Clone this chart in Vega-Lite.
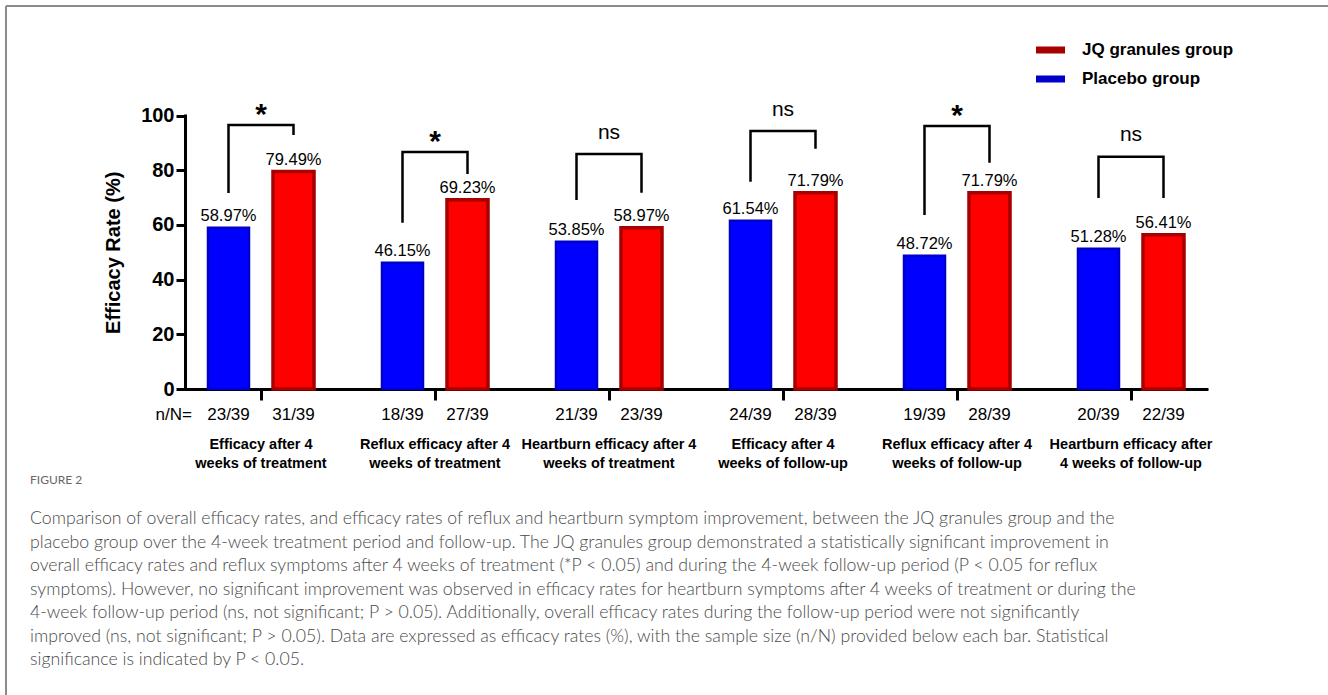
{
  "$schema": "https://vega.github.io/schema/vega-lite/v6.json",
  "width": 1322,
  "height": 689,
  "autosize": "none",
  "padding": {"left": 6, "top": 6, "right": 0, "bottom": 0},
  "background": "white",
  "config": {
    "view": {"stroke": "#8c8c8c", "strokeWidth": 2, "strokeDash": [1322, 2011, 689, 0]},
    "font": "Liberation Sans"
  },
  "datasets": {
    "rates": [
      {"group": "Efficacy after 4 weeks of treatment", "arm": "Placebo group", "rate": 58.97, "n": "23/39"},
      {"group": "Efficacy after 4 weeks of treatment", "arm": "JQ granules group", "rate": 79.49, "n": "31/39"},
      {"group": "Reflux efficacy after 4 weeks of treatment", "arm": "Placebo group", "rate": 46.15, "n": "18/39"},
      {"group": "Reflux efficacy after 4 weeks of treatment", "arm": "JQ granules group", "rate": 69.23, "n": "27/39"},
      {"group": "Heartburn efficacy after 4 weeks of treatment", "arm": "Placebo group", "rate": 53.85, "n": "21/39"},
      {"group": "Heartburn efficacy after 4 weeks of treatment", "arm": "JQ granules group", "rate": 58.97, "n": "23/39"},
      {"group": "Efficacy after 4 weeks of follow-up", "arm": "Placebo group", "rate": 61.54, "n": "24/39"},
      {"group": "Efficacy after 4 weeks of follow-up", "arm": "JQ granules group", "rate": 71.79, "n": "28/39"},
      {"group": "Reflux efficacy after 4 weeks of follow-up", "arm": "Placebo group", "rate": 48.72, "n": "19/39"},
      {"group": "Reflux efficacy after 4 weeks of follow-up", "arm": "JQ granules group", "rate": 71.79, "n": "28/39"},
      {"group": "Heartburn efficacy after 4 weeks of follow-up", "arm": "Placebo group", "rate": 51.28, "n": "20/39"},
      {"group": "Heartburn efficacy after 4 weeks of follow-up", "arm": "JQ granules group", "rate": 56.41, "n": "22/39"}
    ],
    "brackets": [
      {"group": "Efficacy after 4 weeks of treatment", "arm": "Placebo group", "pos": 71.7, "step": 1},
      {"group": "Efficacy after 4 weeks of treatment", "arm": "Placebo group", "pos": 96.5, "step": 2},
      {"group": "Efficacy after 4 weeks of treatment", "arm": "JQ granules group", "pos": 96.5, "step": 3},
      {"group": "Efficacy after 4 weeks of treatment", "arm": "JQ granules group", "pos": 92.9, "step": 4},
      {"group": "Reflux efficacy after 4 weeks of treatment", "arm": "Placebo group", "pos": 60.8, "step": 1},
      {"group": "Reflux efficacy after 4 weeks of treatment", "arm": "Placebo group", "pos": 86.7, "step": 2},
      {"group": "Reflux efficacy after 4 weeks of treatment", "arm": "JQ granules group", "pos": 86.7, "step": 3},
      {"group": "Reflux efficacy after 4 weeks of treatment", "arm": "JQ granules group", "pos": 78.6, "step": 4},
      {"group": "Heartburn efficacy after 4 weeks of treatment", "arm": "Placebo group", "pos": 69.1, "step": 1},
      {"group": "Heartburn efficacy after 4 weeks of treatment", "arm": "Placebo group", "pos": 85.9, "step": 2},
      {"group": "Heartburn efficacy after 4 weeks of treatment", "arm": "JQ granules group", "pos": 85.9, "step": 3},
      {"group": "Heartburn efficacy after 4 weeks of treatment", "arm": "JQ granules group", "pos": 71.8, "step": 4},
      {"group": "Efficacy after 4 weeks of follow-up", "arm": "Placebo group", "pos": 75.8, "step": 1},
      {"group": "Efficacy after 4 weeks of follow-up", "arm": "Placebo group", "pos": 94.3, "step": 2},
      {"group": "Efficacy after 4 weeks of follow-up", "arm": "JQ granules group", "pos": 94.3, "step": 3},
      {"group": "Efficacy after 4 weeks of follow-up", "arm": "JQ granules group", "pos": 87.8, "step": 4},
      {"group": "Reflux efficacy after 4 weeks of follow-up", "arm": "Placebo group", "pos": 63.6, "step": 1},
      {"group": "Reflux efficacy after 4 weeks of follow-up", "arm": "Placebo group", "pos": 96.2, "step": 2},
      {"group": "Reflux efficacy after 4 weeks of follow-up", "arm": "JQ granules group", "pos": 96.2, "step": 3},
      {"group": "Reflux efficacy after 4 weeks of follow-up", "arm": "JQ granules group", "pos": 82.7, "step": 4},
      {"group": "Heartburn efficacy after 4 weeks of follow-up", "arm": "Placebo group", "pos": 69.8, "step": 1},
      {"group": "Heartburn efficacy after 4 weeks of follow-up", "arm": "Placebo group", "pos": 84.9, "step": 2},
      {"group": "Heartburn efficacy after 4 weeks of follow-up", "arm": "JQ granules group", "pos": 84.9, "step": 3},
      {"group": "Heartburn efficacy after 4 weeks of follow-up", "arm": "JQ granules group", "pos": 69.8, "step": 4}
    ],
    "significance": [
      {"group": "Efficacy after 4 weeks of treatment", "top": 96.5, "sig": "*"},
      {"group": "Reflux efficacy after 4 weeks of treatment", "top": 86.7, "sig": "*"},
      {"group": "Heartburn efficacy after 4 weeks of treatment", "top": 85.9, "sig": "ns"},
      {"group": "Efficacy after 4 weeks of follow-up", "top": 94.3, "sig": "ns"},
      {"group": "Reflux efficacy after 4 weeks of follow-up", "top": 96.2, "sig": "*"},
      {"group": "Heartburn efficacy after 4 weeks of follow-up", "top": 84.9, "sig": "ns"}
    ]
  },
  "title": {
    "text": "FIGURE 2",
    "subtitle": [
      "Comparison of overall efficacy rates, and efficacy rates of reflux and heartburn symptom improvement, between the JQ granules group and the",
      "placebo group over the 4-week treatment period and follow-up. The JQ granules group demonstrated a statistically significant improvement in",
      "overall efficacy rates and reflux symptoms after 4 weeks of treatment (*P < 0.05) and during the 4-week follow-up period (P < 0.05 for reflux",
      "symptoms). However, no significant improvement was observed in efficacy rates for heartburn symptoms after 4 weeks of treatment or during the",
      "4-week follow-up period (ns, not significant; P > 0.05). Additionally, overall efficacy rates during the follow-up period were not significantly",
      "improved (ns, not significant; P > 0.05). Data are expressed as efficacy rates (%), with the sample size (n/N) provided below each bar. Statistical",
      "significance is indicated by P < 0.05."
    ],
    "orient": "bottom",
    "anchor": "start",
    "frame": "group",
    "dx": 24,
    "dy": -224,
    "font": "Lato",
    "fontSize": 12,
    "fontWeight": "normal",
    "color": "#666666",
    "subtitleFont": "Lato",
    "subtitleFontSize": 17.7,
    "subtitleFontWeight": 300,
    "subtitleColor": "#4a4a4a",
    "subtitleLineHeight": 23.5,
    "subtitlePadding": 23
  },
  "layer": [
    {
      "data": {"name": "rates"},
      "mark": {"type": "bar"},
      "encoding": {
        "x": {
          "field": "group",
          "type": "nominal",
          "scale": {
            "domain": [
              "Efficacy after 4 weeks of treatment",
              "Reflux efficacy after 4 weeks of treatment",
              "Heartburn efficacy after 4 weeks of treatment",
              "Efficacy after 4 weeks of follow-up",
              "Reflux efficacy after 4 weeks of follow-up",
              "Heartburn efficacy after 4 weeks of follow-up"
            ],
            "range": [168, 1212],
            "paddingInner": 0,
            "paddingOuter": 0
          },
          "axis": {
            "title": null,
            "orient": "bottom",
            "offset": -306,
            "domainColor": "black",
            "domainWidth": 3,
            "domainDash": [0, 11, 1023, 40],
            "tickColor": "black",
            "tickWidth": 3,
            "tickSize": 11,
            "labelFont": "Liberation Sans",
            "labelFontWeight": "bold",
            "labelFontSize": 14.5,
            "labelColor": "black",
            "labelPadding": 37,
            "labelLineHeight": 19,
            "labelAngle": 0,
            "labelLimit": 400,
            "labelOverlap": false,
            "labelBaseline": "top",
            "labelExpr": "datum.label == 'Heartburn efficacy after 4 weeks of follow-up' ? ['Heartburn efficacy after', '4 weeks of follow-up'] : [slice(datum.label, 0, indexof(datum.label, ' weeks')), slice(datum.label, indexof(datum.label, ' weeks') + 1)]"
          }
        },
        "xOffset": {
          "field": "arm",
          "type": "nominal",
          "scale": {"domain": ["Placebo group", "JQ granules group"], "paddingInner": 0.369, "paddingOuter": 0.523}
        },
        "y": {
          "field": "rate",
          "type": "quantitative",
          "title": "Efficacy Rate (%)",
          "scale": {"domain": [0, 100], "range": [383, 109.5], "nice": false, "zero": true},
          "axis": {
            "offset": -179,
            "values": [0, 20, 40, 60, 80, 100],
            "grid": false,
            "domainColor": "black",
            "domainWidth": 3,
            "domainCap": "square",
            "tickColor": "black",
            "tickWidth": 3,
            "tickSize": 9,
            "labelFont": "Liberation Sans",
            "labelFontWeight": "bold",
            "labelFontSize": 20,
            "labelColor": "black",
            "labelPadding": 2,
            "titleFont": "Liberation Sans",
            "titleFontWeight": "bold",
            "titleFontSize": 20,
            "titleColor": "black",
            "titlePadding": 17
          }
        },
        "fill": {
          "field": "arm",
          "type": "nominal",
          "scale": {"domain": ["JQ granules group", "Placebo group"], "range": ["#ff0000", "#0000ff"]},
          "legend": {
            "title": null,
            "orient": "none",
            "legendX": 1030,
            "legendY": 29.5,
            "symbolType": "M-1,-0.0435H1V0.0435H-1Z",
            "symbolSize": 529,
            "symbolStrokeWidth": 6,
            "labelFont": "Liberation Sans",
            "labelFontWeight": "bold",
            "labelFontSize": 17,
            "labelColor": "black",
            "labelOffset": 17,
            "rowPadding": 1,
            "padding": 0
          }
        },
        "stroke": {
          "field": "arm",
          "type": "nominal",
          "scale": {"domain": ["JQ granules group", "Placebo group"], "range": ["#a60000", "#0000c8"]},
          "legend": {
            "title": null,
            "orient": "none",
            "legendX": 1030,
            "legendY": 29.5,
            "symbolType": "M-1,-0.0435H1V0.0435H-1Z",
            "symbolSize": 529,
            "symbolStrokeWidth": 6,
            "labelFont": "Liberation Sans",
            "labelFontWeight": "bold",
            "labelFontSize": 17,
            "labelColor": "black",
            "labelOffset": 17,
            "rowPadding": 1,
            "padding": 0
          }
        },
        "strokeWidth": {
          "condition": {"test": "datum.arm == 'JQ granules group'", "value": 3.5},
          "value": 2.5
        }
      }
    },
    {
      "data": {"name": "rates"},
      "transform": [{"calculate": "format(datum.rate, '.2f') + '%'", "as": "rateLabel"}],
      "mark": {"type": "text", "baseline": "alphabetic", "dy": -7, "fontSize": 16.5, "font": "Liberation Sans", "color": "black"},
      "encoding": {
        "x": {"field": "group", "type": "nominal"},
        "xOffset": {"field": "arm", "type": "nominal"},
        "y": {"field": "rate", "type": "quantitative", "title": "Efficacy Rate (%)"},
        "text": {"field": "rateLabel"}
      }
    },
    {
      "data": {"name": "rates"},
      "mark": {"type": "text", "baseline": "middle", "dy": 26, "fontSize": 17, "font": "Liberation Sans", "color": "black"},
      "encoding": {
        "x": {"field": "group", "type": "nominal"},
        "xOffset": {"field": "arm", "type": "nominal"},
        "y": {"datum": 0, "type": "quantitative"},
        "text": {"field": "n"}
      }
    },
    {
      "data": {"values": [{"caption": "n/N="}]},
      "mark": {"type": "text", "align": "right", "baseline": "middle", "dx": -69, "dy": 26, "fontSize": 17, "font": "Liberation Sans", "color": "black"},
      "encoding": {
        "x": {"datum": "Efficacy after 4 weeks of treatment", "type": "nominal"},
        "y": {"datum": 0, "type": "quantitative"},
        "text": {"field": "caption"}
      }
    },
    {
      "data": {"name": "brackets"},
      "mark": {"type": "line", "color": "black", "strokeWidth": 2.5, "strokeJoin": "miter", "strokeCap": "butt"},
      "encoding": {
        "x": {"field": "group", "type": "nominal"},
        "xOffset": {"field": "arm", "type": "nominal"},
        "y": {"field": "pos", "type": "quantitative", "title": "Efficacy Rate (%)"},
        "detail": {"field": "group"},
        "order": {"field": "step", "type": "quantitative"}
      }
    },
    {
      "data": {"name": "significance"},
      "transform": [{"filter": "datum.sig == '*'"}],
      "mark": {"type": "text", "baseline": "alphabetic", "dy": -1, "fontSize": 30, "fontWeight": "bold", "font": "Liberation Sans", "color": "black"},
      "encoding": {
        "x": {"field": "group", "type": "nominal"},
        "y": {"field": "top", "type": "quantitative", "title": "Efficacy Rate (%)"},
        "text": {"field": "sig"}
      }
    },
    {
      "data": {"name": "significance"},
      "transform": [{"filter": "datum.sig == 'ns'"}],
      "mark": {"type": "text", "baseline": "alphabetic", "dy": -15.5, "fontSize": 21, "font": "Liberation Sans", "color": "black"},
      "encoding": {
        "x": {"field": "group", "type": "nominal"},
        "y": {"field": "top", "type": "quantitative", "title": "Efficacy Rate (%)"},
        "text": {"field": "sig"}
      }
    }
  ]
}
